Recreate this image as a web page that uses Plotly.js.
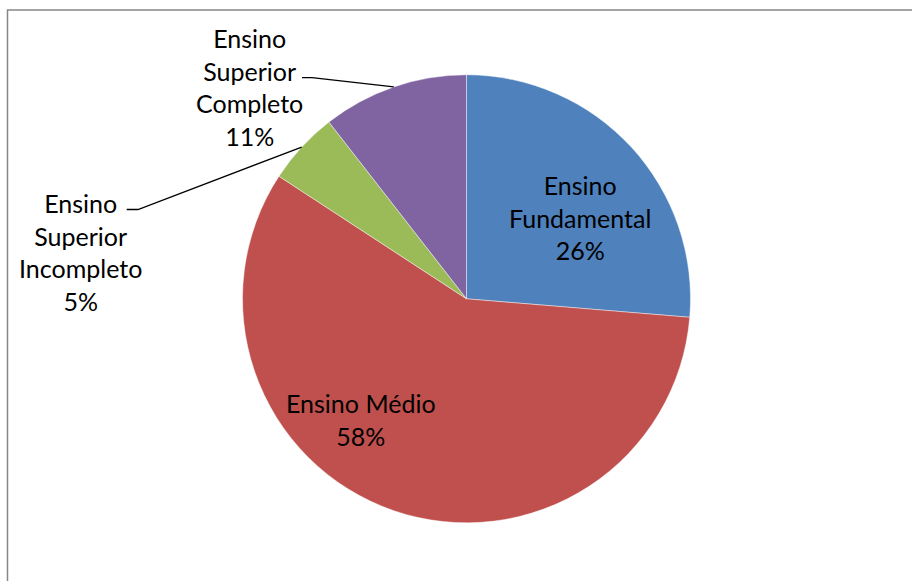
<!DOCTYPE html>
<html>
<head>
<meta charset="utf-8">
<script src="https://cdn.plot.ly/plotly-3.0.1.min.js"></script>
<style>
  html, body { margin: 0; padding: 0; background: #ffffff; }
  #chart { width: 912px; height: 581px; }
</style>
</head>
<body>
<div id="chart"></div>
<script>
// Escolaridade: respondents by education level
const categories = ['Ensino Fundamental', 'Ensino Médio', 'Ensino Superior Incompleto', 'Ensino Superior Completo'];
const counts = [5, 11, 1, 2];
const labelLines = ['Ensino<br>Fundamental', 'Ensino Médio', 'Ensino<br>Superior<br>Incompleto', 'Ensino<br>Superior<br>Completo'];
const sliceColors = ['#4F81BD', '#C0504D', '#9BBB59', '#8064A2'];

const W = 912, H = 581;
// pie placement in pixels (centre and radius)
const cx = 466.5, cy = 298.8, R = 224;
// label block centres in pixels
const labelPos = [[580, 217.5], [361, 419.5], [80, 252], [249, 86.5]];
// leader-line elbows for the outside labels (pixel points near the text)
const leaderElbows = { 2: [[126.7, 209.5], [138, 209.5]], 3: [[302, 77.7], [312, 77.7]] };

const px = x => x / W;
const py = y => 1 - y / H;

const total = counts.reduce((a, b) => a + b, 0);

const trace = {
  type: 'pie',
  labels: categories,
  values: counts,
  sort: false,
  direction: 'clockwise',
  rotation: 0,
  textinfo: 'none',
  hoverinfo: 'label+percent',
  showlegend: false,
  marker: { colors: sliceColors, line: { color: 'rgba(255,255,255,0.55)', width: 0.8 } },
  domain: { x: [px(cx - R), px(cx + R)], y: [py(cy + R), py(cy - R)] }
};

const annotations = categories.map((c, i) => ({
  xref: 'paper', yref: 'paper',
  x: px(labelPos[i][0]), y: py(labelPos[i][1]),
  xanchor: 'center', yanchor: 'middle',
  showarrow: false, align: 'center',
  text: labelLines[i] + '<br>' + Math.round(counts[i] / total * 100) + '%',
  font: { family: 'Lato, "Open Sans", sans-serif', size: 25, color: '#000000' }
}));

// leader lines run from the label elbow to the slice's mid-angle on the rim
const shapes = [];
let cum = 0;
counts.forEach((v, i) => {
  const mid = (cum + v / 2) / total * 2 * Math.PI;
  cum += v;
  if (!leaderElbows[i]) return;
  const ex = cx + R * Math.sin(mid);
  const ey = cy - R * Math.cos(mid);
  const pts = leaderElbows[i].concat([[ex, ey]]);
  const path = pts.map((p, k) => (k ? 'L ' : 'M ') + px(p[0]) + ' ' + py(p[1])).join(' ');
  shapes.push({
    type: 'path', xref: 'paper', yref: 'paper', path: path,
    line: { color: '#000000', width: 1.3 }
  });
});

// chart frame
shapes.push({
  type: 'rect', xref: 'paper', yref: 'paper',
  x0: px(7.5), x1: 1.02, y0: -0.02, y1: py(10),
  line: { color: '#868686', width: 1.5 }, fillcolor: 'rgba(0,0,0,0)', layer: 'below'
});

const layout = {
  width: W, height: H,
  margin: { l: 0, r: 0, t: 0, b: 0 },
  paper_bgcolor: '#ffffff',
  plot_bgcolor: '#ffffff',
  annotations: annotations,
  shapes: shapes
};

Plotly.newPlot('chart', [trace], layout, { displayModeBar: false, staticPlot: true });
</script>
</body>
</html>
